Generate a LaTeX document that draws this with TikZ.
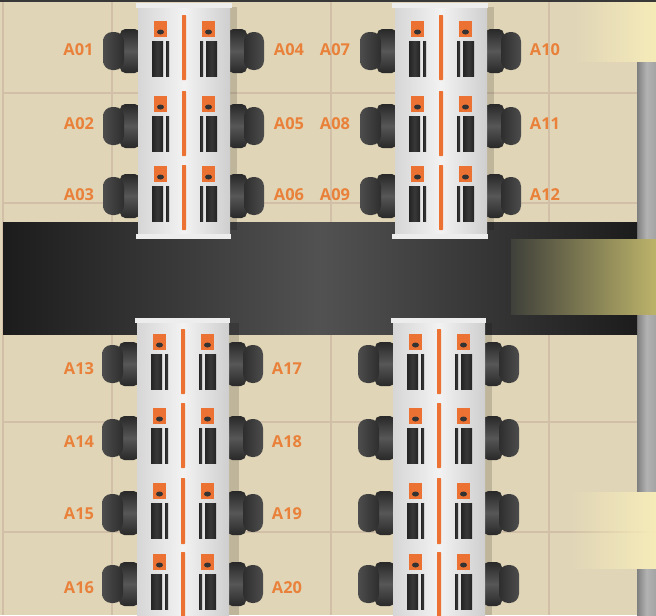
\documentclass[tikz,border=0pt]{standalone}
\usepackage{fontspec}
\setmainfont{Open Sans}
\definecolor{floorc}{HTML}{E0D5B7}
\definecolor{gridc}{HTML}{D1C0A7}
\definecolor{orangec}{HTML}{EC7233}
\definecolor{labelc}{HTML}{E9813A}
\definecolor{patchc}{HTML}{F5EBB8}
\definecolor{patchd}{HTML}{3F403A}
\definecolor{patche}{HTML}{BCB36A}
\tikzset{
  seatlabel/.style={font=\bfseries\fontsize{12.3}{12.3}\selectfont,text=labelc,inner sep=0pt,anchor=center},
  gridline/.style={draw=gridc,line width=1.5pt},
  tablebody/.style={left color=black!16,right color=black!19,middle color=black!5,draw=none},
  tablecap/.style={fill=black!7,draw=none},
  shadowband/.style={fill=black,opacity=.15,draw=none},
  chairseat/.style={top color=black!84,bottom color=black!84,middle color=black!66,draw=none,rounded corners=4pt},
  chairbackL/.style={left color=black!70,right color=black!82,draw=none,rounded corners=7pt},
  chairbackR/.style={left color=black!82,right color=black!70,draw=none,rounded corners=7pt},
  orangepad/.style={fill=orangec,draw=none},
  orangeline/.style={fill=orangec,draw=none,rounded corners=.4pt},
  barpiece/.style={left color=black!86,right color=black!86,middle color=black!78,draw=none},
  holepiece/.style={fill=black!80,draw=none},
}
\newcommand{\seatrow}[2]{%
 \begin{scope}[shift={(#1,#2)}]
  % left chair
  \path[chairseat] (120,8) rectangle (140,52);
  \path[chairbackL] (103,11) rectangle (124,49);
  % right chair
  \path[chairseat] (228,8) rectangle (247,52);
  \path[chairbackR] (244,11) rectangle (264,49);
 \end{scope}}
\newcommand{\seatparts}[2]{%
 \begin{scope}[shift={(#1,#2)}]
  \path[orangepad] (154,0) rectangle (167,16);
  \path[orangepad] (202,0) rectangle (215,16);
  \path[holepiece] (160.5,11) ellipse [x radius=3.5,y radius=2.5];
  \path[holepiece] (208.5,11) ellipse [x radius=3.5,y radius=2.5];
  \path[barpiece] (152,20) rectangle (163,55);
  \path[barpiece] (166,20) rectangle (169,55);
  \path[barpiece] (200,20) rectangle (203,55);
  \path[barpiece] (206,20) rectangle (217,55);
 \end{scope}}
\newcommand{\tablebox}[3]{%
 \begin{scope}[shift={(#1,0)}]
  \path[tablebody] (138,#2) rectangle (230,#3);
 \end{scope}}
\begin{document}
\begin{tikzpicture}[x=0.75pt,y=-0.75pt]
\useasboundingbox (0,0) rectangle (656,615);
\clip (0,0) rectangle (656,615);
% floor
\path[fill=floorc] (0,0) rectangle (656,615);
\foreach \gx/\gn in {3/a,112/b,331/c,549/d}{\draw[gridline] (\gx,0) coordinate (gt\gn) -- (\gx,615) coordinate (gb\gn);}
\foreach \gy/\gn in {93/a,203/b,422/c,532/d}{\draw[gridline] (3,\gy) coordinate (gl\gn) -- (637,\gy) coordinate (gr\gn);}
% pole
\path[left color=black!50,right color=black!36,middle color=black!30] (637,61) rectangle (656,615);
% aisle
\path[left color=black!89,right color=black!89,middle color=black!68] (3,222) rectangle (637,334);
% light patches
\path[left color=floorc,right color=patchc] (575,0) rectangle (656,61);
\path[left color=floorc,right color=patchc] (570,492) rectangle (656,568);
\path[left color=gridc,right color=patchc] (570,531.2) rectangle (656,532.8);
\path[left color=patchd,right color=patche] (511,239) rectangle (656,314);
\path[fill=black!78] (0,0) rectangle (656,1.5);
% table shadows
\path[shadowband] (230,7) rectangle (237,230);
\path[shadowband] (487,7) rectangle (494,230);
\path[shadowband] (229,323) rectangle (239,615);
\path[shadowband] (485,323) rectangle (492,615);
% chairs
\foreach \ty in {21,96,166}{\seatrow{0}{\ty}\seatrow{257}{\ty}}
\foreach \ty in {334,408,483,554}{\seatrow{-1}{\ty}\seatrow{255}{\ty}}
% tables
\tablebox{0}{5}{237}\tablebox{257}{5}{237}
\tablebox{-1}{320}{620}\tablebox{255}{320}{620}
\path[tablecap] (136,3) rectangle (232,8);
\path[tablecap] (136,234) rectangle (231,239);
\path[tablecap] (392,3) rectangle (488,8);
\path[tablecap] (392,234) rectangle (488,239);
\path[tablecap] (135,318) rectangle (230,323);
\path[tablecap] (391,318) rectangle (486,323);
% table fittings
\foreach \ty in {21,96,166}{\seatparts{0}{\ty}\seatparts{257}{\ty}}
\foreach \ty in {334,408,483,554}{\seatparts{-1}{\ty}\seatparts{255}{\ty}}
\foreach \la/\lb in {15/80,91/156,165/230}{
  \path[orangeline] (182,\la) rectangle (186,\lb);
  \path[orangeline] (439,\la) rectangle (443,\lb);}
\foreach \la/\lb in {329/394,403/468,478/544,552/620}{
  \path[orangeline] (181,\la) rectangle (185,\lb);
  \path[orangeline] (437,\la) rectangle (441,\lb);}
% labels
\foreach \t/\lx/\ly in {A01/78.5/49.5,A02/79/123.5,A03/79/194.5,A04/289/49.5,A05/289/123.5,A06/289/194.5,A07/335/49.5,A08/335/123.5,A09/335/194.5,A10/545/49.5,A11/545/123.5,A12/545/194.5,A13/79/368.5,A14/79/441.5,A15/79/513.5,A16/79/587.5,A17/287/368.5,A18/287/441.5,A19/287/513.5,A20/287/587.5}{
  \node[seatlabel] (\t) at (\lx,\ly) {\t};}
\end{tikzpicture}
\end{document}
